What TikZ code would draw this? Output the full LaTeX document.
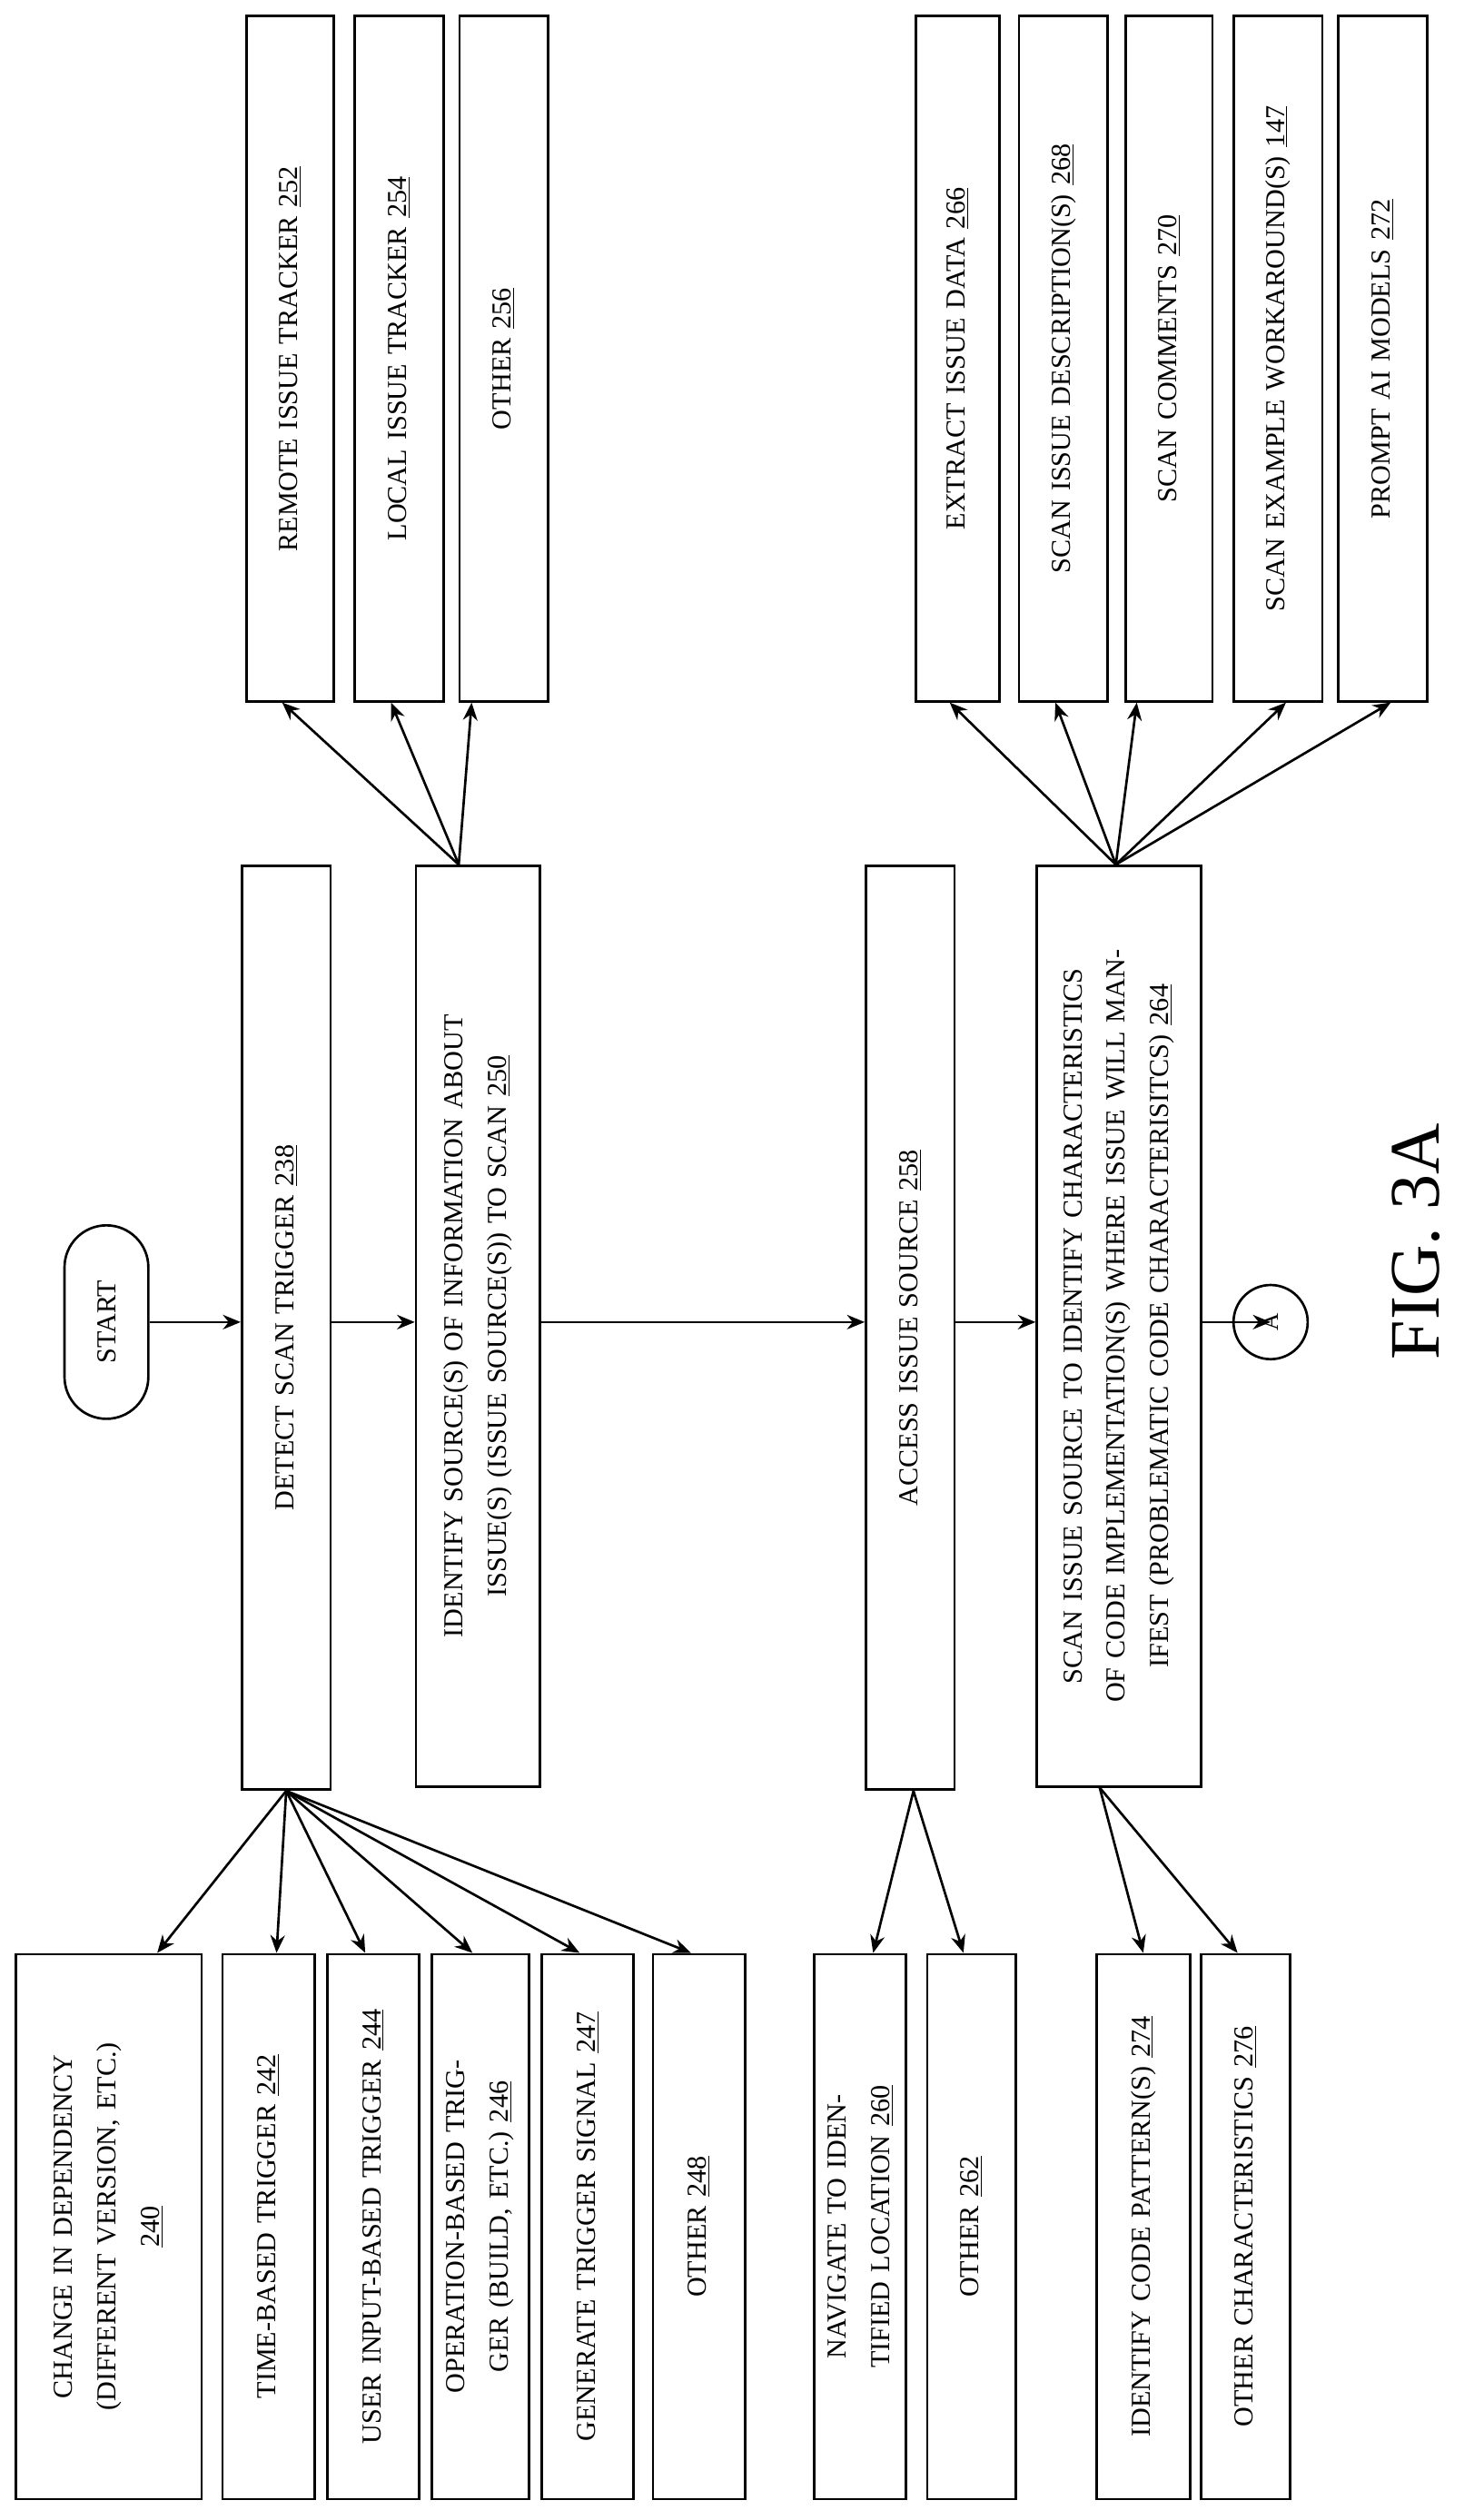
\documentclass[tikz,border=0pt]{standalone}
\usepackage{fontspec}
\setmainfont{Liberation Serif}
\usetikzlibrary{arrows.meta,calc}
\begin{document}
\begin{tikzpicture}[x=1pt,y=-1pt,
  box/.style={draw,line width=1.5pt,rotate=90,align=center,inner sep=2pt,font=\fontsize{17}{27}\selectfont},
  arr/.style={-{Stealth[length=11pt,width=9pt]},line width=1.5pt}]
\useasboundingbox (0,0) rectangle (920,1563);
% box macro: #1 name, #2 x1, #3 x2, #4 y1, #5 y2, #6 text
\newcommand\bx[6]{\pgfmathsetmacro\W{#5-#4}\pgfmathsetmacro\H{#3-#2}\pgfmathsetmacro\T{#5-#4-14}
  \node[box,minimum width=\W pt,minimum height=\H pt,text width=\T pt] (#1) at ({(#2+#3)/2},{(#4+#5)/2}) {#6};}
\coordinate (yl) at (0,820);
\node[draw,line width=1.5pt,rotate=90,rounded corners=26pt,minimum width=120pt,minimum height=52pt,font=\fontsize{17}{20}\selectfont] (start) at (66,820) {START};
\bx{d}{150}{205}{537}{1110}{DETECT SCAN TRIGGER \underline{238}}
\bx{i}{258}{335}{537}{1108}{IDENTIFY SOURCE(S) OF INFORMATION ABOUT ISSUE(S) (ISSUE SOURCE(S)) TO SCAN \underline{250}}
\bx{ac}{537}{592}{537}{1110}{ACCESS ISSUE SOURCE \underline{258}}
\bx{s}{643}{745}{537}{1108}{SCAN ISSUE SOURCE TO IDENTIFY CHARACTERISTICS OF CODE IMPLEMENTATION(S) WHERE ISSUE WILL MANIFEST (PROBLEMATIC CODE CHARACTERISITCS) \underline{264}}
\node[draw,circle,line width=1.5pt,minimum size=46pt,inner sep=0pt,rotate=90,font=\fontsize{15}{18}\selectfont] (A) at (788,820) {A};
\node[rotate=90,font=\fontsize{44}{48}\selectfont] (fig) at (878,770) {FIG. 3A};
% top boxes
\bx{r252}{153}{207}{10}{435}{REMOTE ISSUE TRACKER \underline{252}}
\bx{l254}{220}{275}{10}{435}{LOCAL ISSUE TRACKER \underline{254}}
\bx{o256}{285}{340}{10}{435}{OTHER \underline{256}}
\bx{e266}{568}{620}{10}{435}{EXTRACT ISSUE DATA \underline{266}}
\bx{s268}{632}{687}{10}{435}{SCAN ISSUE DESCRIPTION(S) \underline{268}}
\bx{c270}{698}{752}{10}{435}{SCAN COMMENTS \underline{270}}
\bx{w147}{765}{820}{10}{435}{SCAN EXAMPLE WORKAROUND(S) \underline{147}}
\bx{p272}{830}{885}{10}{435}{PROMPT AI MODELS \underline{272}}
% bottom boxes
\bx{b240}{10}{125}{1212}{1550}{CHANGE IN DEPENDENCY (DIFFERENT VERSION, ETC.)\\ \underline{240}}
\bx{b242}{138}{195}{1212}{1550}{TIME-BASED TRIGGER \underline{242}}
\bx{b244}{203}{260}{1212}{1550}{USER INPUT-BASED TRIGGER \underline{244}}
\bx{b246}{268}{328}{1212}{1550}{OPERATION-BASED TRIGGER (BUILD, ETC.) \underline{246}}
\bx{b247}{336}{393}{1212}{1550}{GENERATE TRIGGER SIGNAL \underline{247}}
\bx{b248}{405}{462}{1212}{1550}{OTHER \underline{248}}
\bx{b260}{505}{562}{1212}{1550}{NAVIGATE TO IDENTIFIED LOCATION \underline{260}}
\bx{b262}{575}{630}{1212}{1550}{OTHER \underline{262}}
\bx{b274}{680}{738}{1212}{1550}{IDENTIFY CODE PATTERN(S) \underline{274}}
\bx{b276}{745}{800}{1212}{1550}{OTHER CHARACTERISTICS \underline{276}}
% flow
\draw[arr] (start.south|-yl) -- (d.north|-yl);
\draw[arr] (d.south|-yl) -- (i.north|-yl);
\draw[arr] (i.south|-yl) -- (ac.north|-yl);
\draw[arr] (ac.south|-yl) -- (s.north|-yl);
\draw[arr] (s.south|-yl) -- (A.west|-yl);
% fans
\coordinate (fd) at ([xshift=-0pt]d.west);
\foreach \t/\dx in {b240/30,b242/5,b244/-5,b246/-5,b247/-5,b248/-5}
  \draw[arr] (fd) -- ([xshift=\dx pt]\t.east);
\coordinate (fa) at ([xshift=2pt]ac.west);
\foreach \t/\dx in {b260/8,b262/-5}
  \draw[arr] (fa) -- ([xshift=\dx pt]\t.east);
\coordinate (fs) at ([xshift=-12pt]s.west);
\foreach \t/\dx in {b274/0,b276/-5}
  \draw[arr] (fs) -- ([xshift=\dx pt]\t.east);
\coordinate (fi) at ([xshift=-12pt]i.east);
\foreach \t/\dx in {r252/-5,l254/-5,o256/-20}
  \draw[arr] (fi) -- ([xshift=\dx pt]\t.west);
\coordinate (fss) at ([xshift=-2pt]s.east);
\foreach \t/\dx in {e266/-5,s268/-5,c270/-20,w147/5,p272/5}
  \draw[arr] (fss) -- ([xshift=\dx pt]\t.west);
\end{tikzpicture}
\end{document}
